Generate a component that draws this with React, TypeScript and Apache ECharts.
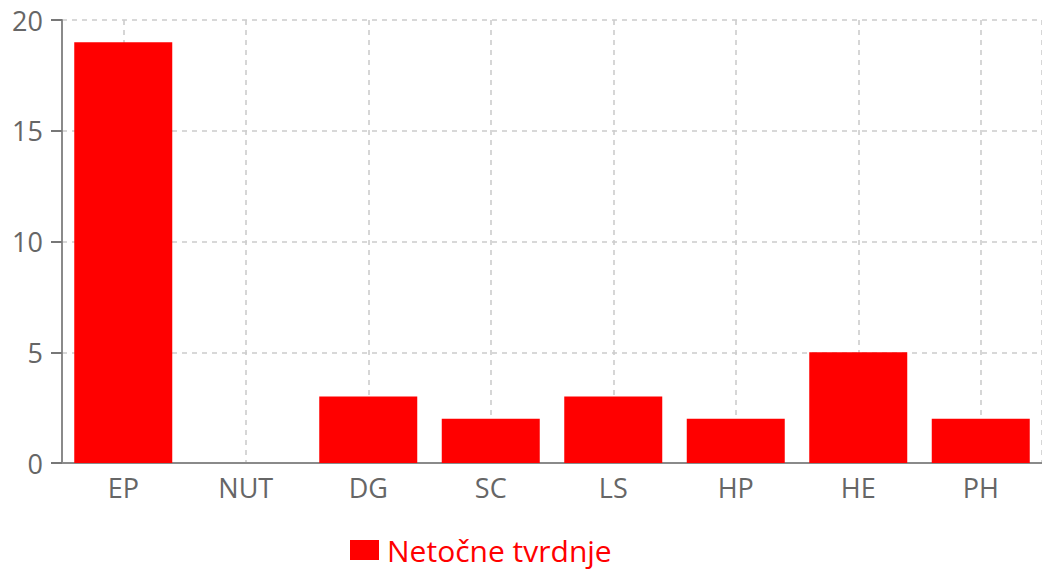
import React, { useEffect, useRef } from "react";
import * as echarts from "echarts";

const categories = ["EP", "NUT", "DG", "SC", "LS", "HP", "HE", "PH"];
const values = [19, 0, 3, 2, 3, 2, 5, 2];
const seriesName = "Netočne tvrdnje";
const yMin = 0;
const yMax = 20;
const yInterval = 5;

export default function App() {
  const ref = useRef<HTMLDivElement>(null);
  useEffect(() => {
    if (!ref.current) return;
    const chart = echarts.init(ref.current, null, { renderer: "svg" });
    const halfSlots = categories.flatMap((c) => [c + "-a", c + "-b"]);
    const font = "'Open Sans', 'Segoe UI', sans-serif";
    chart.setOption({
      animation: false,
      textStyle: { fontFamily: font },
      grid: { left: 62, right: 0, top: 20, bottom: 106, containLabel: false },
      legend: {
        left: 348,
        top: 532,
        padding: 2,
        itemWidth: 29,
        itemHeight: 20,
        itemGap: 10,
        icon: "rect",
        data: [seriesName],
        textStyle: { color: "#ff0000", fontSize: 30, lineHeight: 32, fontFamily: font, padding: [0, 0, 0, 3] },
      },
      xAxis: [
        {
          type: "category",
          data: categories,
          axisLine: { lineStyle: { color: "#8a8a8a", width: 2 } },
          axisTick: { alignWithLabel: true, length: 11, lineStyle: { color: "#777", width: 2 } },
          axisLabel: { color: "#666", fontSize: 27, margin: 11, fontFamily: font },
          splitLine: { show: false },
        },
        {
          type: "category",
          data: halfSlots,
          position: "bottom",
          axisLine: { show: false },
          axisTick: { show: false },
          axisLabel: { show: false },
          splitLine: {
            show: true,
            interval: (i: number) => i % 2 === 1,
            lineStyle: { color: "#cccccc", type: [5, 5], width: 1.6 },
          },
        },
      ],
      yAxis: {
        type: "value",
        min: yMin,
        max: yMax,
        interval: yInterval,
        axisLine: { show: true, lineStyle: { color: "#8a8a8a", width: 2 } },
        axisTick: { show: true, length: 11, lineStyle: { color: "#777", width: 2 } },
        axisLabel: { color: "#666", fontSize: 27, margin: 19, fontFamily: font },
        splitLine: { show: true, lineStyle: { color: "#cccccc", type: [5, 5], width: 1.6 } },
      },
      series: [
        {
          name: seriesName,
          type: "bar",
          data: values,
          barCategoryGap: "20%",
          itemStyle: { color: "#ff0000" },
        },
      ],
    });
    return () => chart.dispose();
  }, []);
  return (
    <div
      ref={ref}
      style={{ position: "fixed", left: 0, top: 0, width: 1042, height: 569, background: "#fff" }}
    />
  );
}
